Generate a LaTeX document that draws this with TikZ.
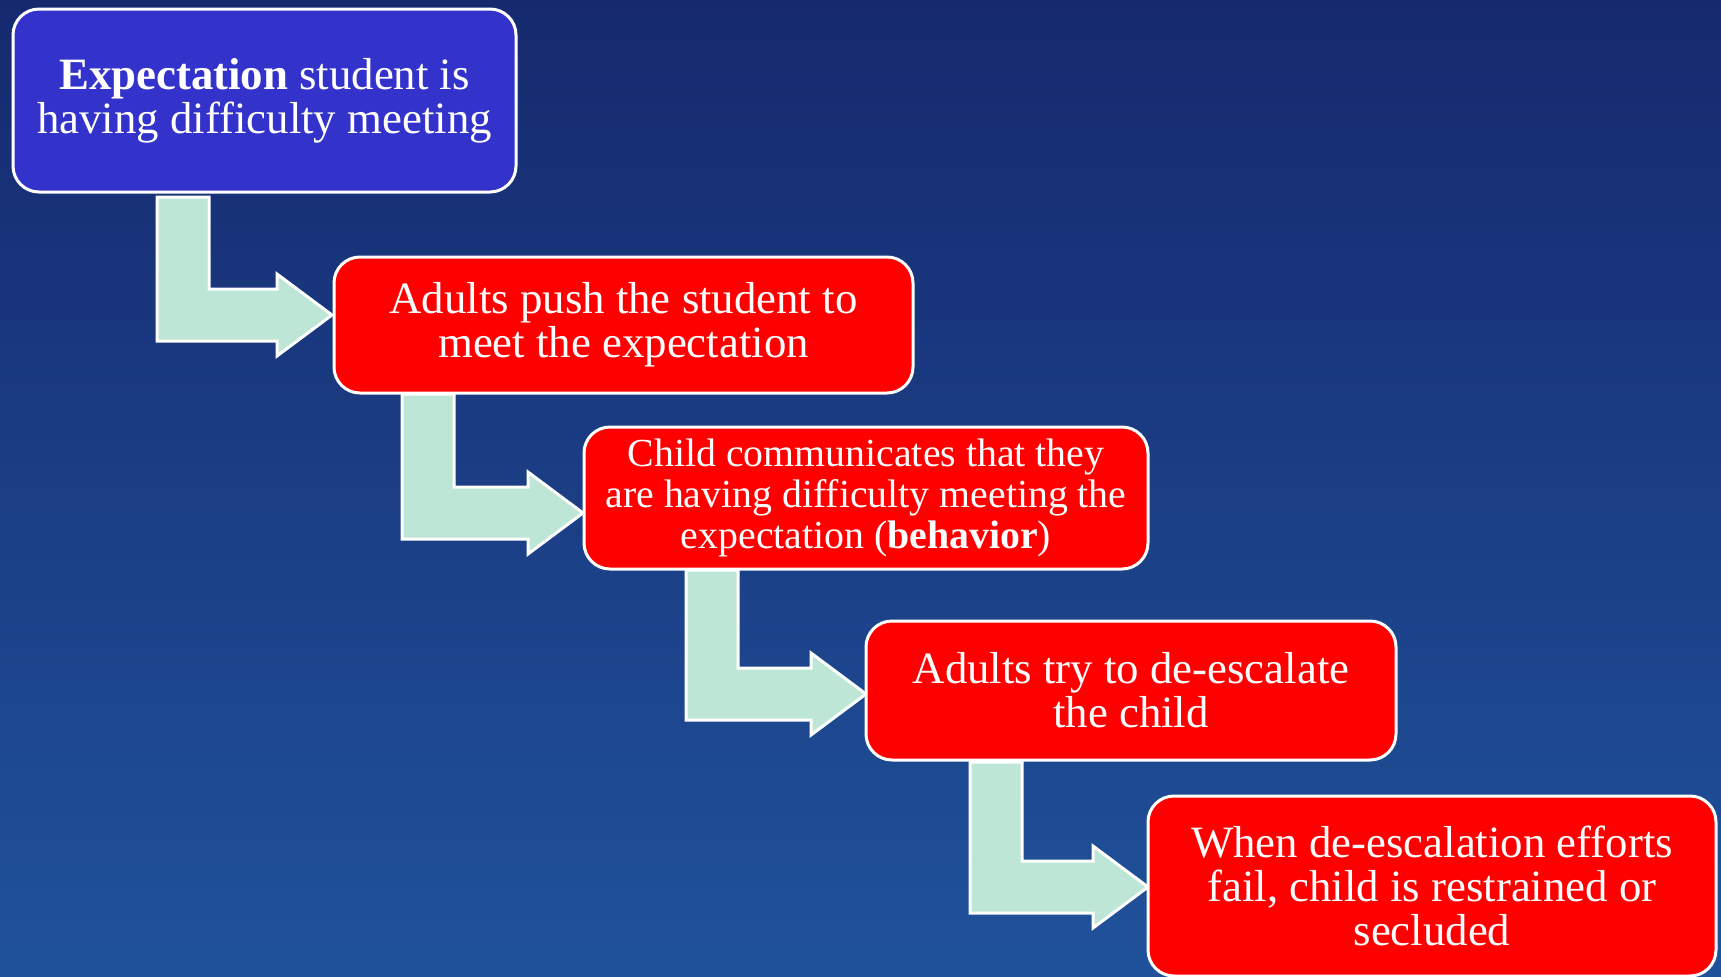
\documentclass[tikz,border=0pt]{standalone}
\usepackage{fontspec}
\setmainfont{Liberation Serif}
\definecolor{bgtop}{RGB}{22,41,110}
\definecolor{bgbot}{RGB}{31,82,155}
\definecolor{bluebox}{RGB}{51,51,204}
\definecolor{redbox}{RGB}{255,0,0}
\definecolor{mint}{RGB}{189,230,214}
\tikzset{
  stepbox/.style={draw=white, line width=1.5pt, rounded corners=13pt, fill=redbox,
    text=white, align=center, inner sep=0pt, font=\fontsize{22.4}{22}\selectfont},
  larrowshape/.style={fill=mint, draw=white, line width=1.5pt, line join=miter}
}
% \larrow{x0}{ytop}{yc}{xtip}
\newcommand\larrow[4]{%
  \draw[larrowshape] (#1,#2) -- ({#1+52},#2) -- ({#1+52},{#3-26}) -- ({#4-55},{#3-26})
    -- ({#4-55},{#3-41}) -- (#4,#3) -- ({#4-55},{#3+41}) -- ({#4-55},{#3+26})
    -- (#1,{#3+26}) -- cycle;}
\begin{document}
\begin{tikzpicture}[x=0.5pt,y=-0.5pt]
\useasboundingbox (0,0) rectangle (1721,976);
\shade[top color=bgtop, bottom color=bgbot] (0,0) rectangle (1721,976);

\larrow{157}{197}{315}{332}
\larrow{402}{394}{513}{583}
\larrow{686}{570}{694}{866}
\larrow{970}{762}{887}{1148}

\node[stepbox, fill=bluebox, minimum width=251.5pt, minimum height=91.5pt] (b1) at (264.5,100.5)
  {\textbf{Expectation} student is\\having difficulty meeting};
\node[stepbox, minimum width=289.5pt, minimum height=68pt] (b2) at (623.5,325)
  {Adults push the student to\\meet the expectation};
\node[stepbox, minimum width=282pt, minimum height=71pt, font=\fontsize{19.9}{20.5}\selectfont] (b3) at (866,498)
  {Child communicates that they\\are having difficulty meeting the\\expectation (\textbf{behavior})};
\node[stepbox, minimum width=265pt, minimum height=69.5pt] (b4) at (1131,690.5)
  {Adults try to de-escalate\\the child};
\node[stepbox, minimum width=284pt, minimum height=90pt] (b5) at (1432,886)
  {When de-escalation efforts\\fail, child is restrained or\\secluded};
\end{tikzpicture}
\end{document}
